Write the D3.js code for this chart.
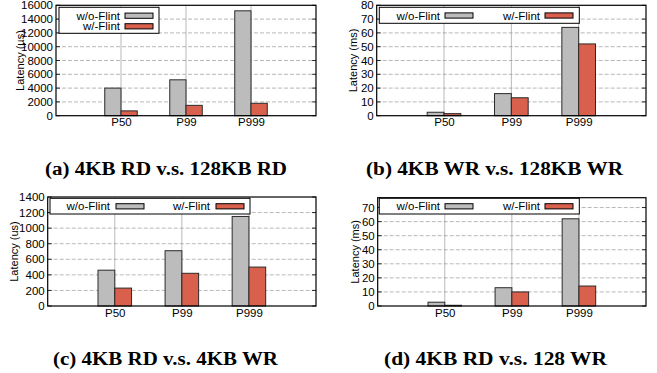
<!DOCTYPE html>
<html><head><meta charset="utf-8">
<script src="https://cdn.jsdelivr.net/npm/d3@7"></script>
<style>body{margin:0;background:#fff}svg{display:block}</style>
</head><body>
<svg id="chart" width="657" height="373"></svg>
<script>
// ---- data ----
const categories = ["P50", "P99", "P999"];
const seriesNames = ["w/o-Flint", "w/-Flint"];
const seriesColors = ["#bcbcbc", "#d9604c"];

const rdVs128Rd_without = [4000, 5200, 15200];
const rdVs128Rd_with = [700, 1500, 1800];
const rdVs128Rd_ticks = [0, 2000, 4000, 6000, 8000, 10000, 12000, 14000, 16000];

const wrVs128Wr_without = [2.5, 16, 64];
const wrVs128Wr_with = [1.5, 13, 52];
const wrVs128Wr_ticks = [0, 10, 20, 30, 40, 50, 60, 70, 80];

const rdVsWr_without = [460, 710, 1150];
const rdVsWr_with = [230, 420, 500];
const rdVsWr_ticks = [0, 200, 400, 600, 800, 1000, 1200, 1400];

const rdVs128Wr_without = [2.7, 13, 62];
const rdVs128Wr_with = [0.5, 10, 14.2];
const rdVs128Wr_ticks = [0, 10, 20, 30, 40, 50, 60, 70];

const captions = ["(a) 4KB RD v.s. 128KB RD", "(b) 4KB WR v.s. 128KB WR", "(c) 4KB RD v.s. 4KB WR", "(d) 4KB RD v.s. 128 WR"];
const yLabels = ["Latency (\u00b5s)", "Latency (ms)", "Latency (us)", "Latency (ms)"];

// ---- layout ----
const panels = [
  {wo: rdVs128Rd_without, w: rdVs128Rd_with, ticks: rdVs128Rd_ticks, ymax: 16000,
   x0: 56, x1: 316, y0: 5.3, y1: 115.7, ylabX: 20, xlabY: 126.5,
   legend: {x: 59, y: 7.3, w: 100, h: 26, rows: true, textX: [120, 120], swX: [125, 125], rowY: [15.7, 26.3]},
   cap: {x: 45, w: 242, y: 175}},
  {wo: wrVs128Wr_without, w: wrVs128Wr_with, ticks: wrVs128Wr_ticks, ymax: 80,
   x0: 376.7, x1: 646, y0: 5.3, y1: 115.7, ylabX: 353, xlabY: 126.5,
   legend: {x: 379.3, y: 7.3, w: 200, h: 16, textX: [440, 540], swX: [445, 545], rowY: [15.5, 15.5]},
   cap: {x: 366, w: 257, y: 175}},
  {wo: rdVsWr_without, w: rdVsWr_with, ticks: rdVsWr_ticks, ymax: 1400,
   x0: 47.7, x1: 316, y0: 197, y1: 306, ylabX: 14, xlabY: 317,
   legend: {x: 50, y: 198.3, w: 200, h: 15.7, textX: [110, 210], swX: [116, 216], rowY: [206.3, 206.3]},
   cap: {x: 53, w: 225, y: 365}},
  {wo: rdVs128Wr_without, w: rdVs128Wr_with, ticks: rdVs128Wr_ticks, ymax: 77,
   x0: 377.7, x1: 646, y0: 197.7, y1: 306, ylabX: 355, xlabY: 317,
   legend: {x: 379.3, y: 198.3, w: 200, h: 15.7, textX: [440, 540], swX: [445, 545], rowY: [206.3, 206.3]},
   cap: {x: 384, w: 223, y: 365}}
];

const svg = d3.select("#chart");
const sans = "'Liberation Sans', Arial, sans-serif";

panels.forEach((p, i) => {
  const g = svg.append("g");
  const x = d3.scaleLinear().domain([0, 4]).range([p.x0, p.x1]);
  const y = d3.scaleLinear().domain([0, p.ymax]).range([p.y1, p.y0]);
  const barW = x(0.25) - x(0);

  // grid horizontal
  g.selectAll(".hg").data(p.ticks.filter(t => t > 0 && t < p.ymax)).enter().append("line")
    .attr("x1", p.x0).attr("x2", p.x1).attr("y1", d => y(d)).attr("y2", d => y(d))
    .attr("stroke", "#9a9a9a").attr("stroke-width", 0.7).attr("stroke-dasharray", "4,2");
  // grid vertical
  g.selectAll(".vg").data(categories).enter().append("line")
    .attr("x1", (d, j) => x(j + 1)).attr("x2", (d, j) => x(j + 1))
    .attr("y1", p.y0).attr("y2", p.y1)
    .attr("stroke", "#8a8a8a").attr("stroke-width", 0.6);

  // y axis labels
  const yAxis = d3.axisLeft(y).tickValues(p.ticks).tickSize(0).tickPadding(3).tickFormat(d3.format("d"));
  const ya = g.append("g").attr("transform", `translate(${p.x0},0)`).call(yAxis);
  ya.select(".domain").remove();
  ya.selectAll("text").attr("font-family", sans).attr("font-size", 11.5).attr("fill", "#000");
  // inner ticks
  g.selectAll(".lt").data(p.ticks).enter().append("line")
    .attr("x1", p.x0).attr("x2", p.x0 + 4).attr("y1", d => y(d)).attr("y2", d => y(d))
    .attr("stroke", "#000").attr("stroke-width", 0.8);
  g.selectAll(".rt").data(p.ticks).enter().append("line")
    .attr("x1", p.x1).attr("x2", p.x1 - 4).attr("y1", d => y(d)).attr("y2", d => y(d))
    .attr("stroke", "#000").attr("stroke-width", 0.8);

  // x axis labels
  const xAxis = d3.axisBottom(x).tickValues([1, 2, 3]).tickSize(0).tickPadding(0)
    .tickFormat(d => categories[d - 1]);
  const xa = g.append("g").attr("transform", `translate(0,${p.y1})`).call(xAxis);
  xa.select(".domain").remove();
  xa.selectAll("text").attr("font-family", sans).attr("font-size", 11.5).attr("fill", "#000")
    .attr("dy", null).attr("y", p.xlabY - p.y1);

  // bars
  [p.wo, p.w].forEach((vals, s) => {
    g.selectAll(".b" + s).data(vals).enter().append("rect")
      .attr("x", (d, j) => x(j + 1) + (s === 0 ? -barW : 0))
      .attr("y", d => y(d))
      .attr("width", barW)
      .attr("height", d => y(0) - y(d))
      .attr("fill", seriesColors[s])
      .attr("stroke", "#2a2a2a").attr("stroke-width", 1);
  });

  // frame
  g.append("rect").attr("x", p.x0).attr("y", p.y0).attr("width", p.x1 - p.x0).attr("height", p.y1 - p.y0)
    .attr("fill", "none").attr("stroke", "#000").attr("stroke-width", 1.2);

  // legend
  const L = p.legend;
  g.append("rect").attr("x", L.x).attr("y", L.y).attr("width", L.w).attr("height", L.h)
    .attr("fill", "#fff").attr("stroke", "#000").attr("stroke-width", 1);
  seriesNames.forEach((name, s) => {
    g.append("text").attr("x", L.textX[s]).attr("y", L.rowY[s]).attr("dy", "0.35em")
      .attr("text-anchor", "end").attr("font-family", sans).attr("font-size", 11.5).text(name);
    g.append("rect").attr("x", L.swX[s]).attr("y", L.rowY[s] - 2.6).attr("width", 28).attr("height", 5.2)
      .attr("fill", seriesColors[s]).attr("stroke", "#000").attr("stroke-width", 1);
  });

  // y label
  g.append("text").attr("transform", `translate(${p.ylabX},${(p.y0 + p.y1) / 2}) rotate(-90)`)
    .attr("text-anchor", "middle").attr("dy", "0.35em")
    .attr("font-family", sans).attr("font-size", 11).text(yLabels[i]);

  // caption
  svg.append("text").attr("x", p.cap.x).attr("y", p.cap.y)
    .attr("font-family", "'Liberation Serif', 'Times New Roman', serif").attr("font-weight", "bold")
    .attr("font-size", 18.5).attr("textLength", p.cap.w).attr("lengthAdjust", "spacingAndGlyphs")
    .text(captions[i]);
});
</script>
</body></html>
